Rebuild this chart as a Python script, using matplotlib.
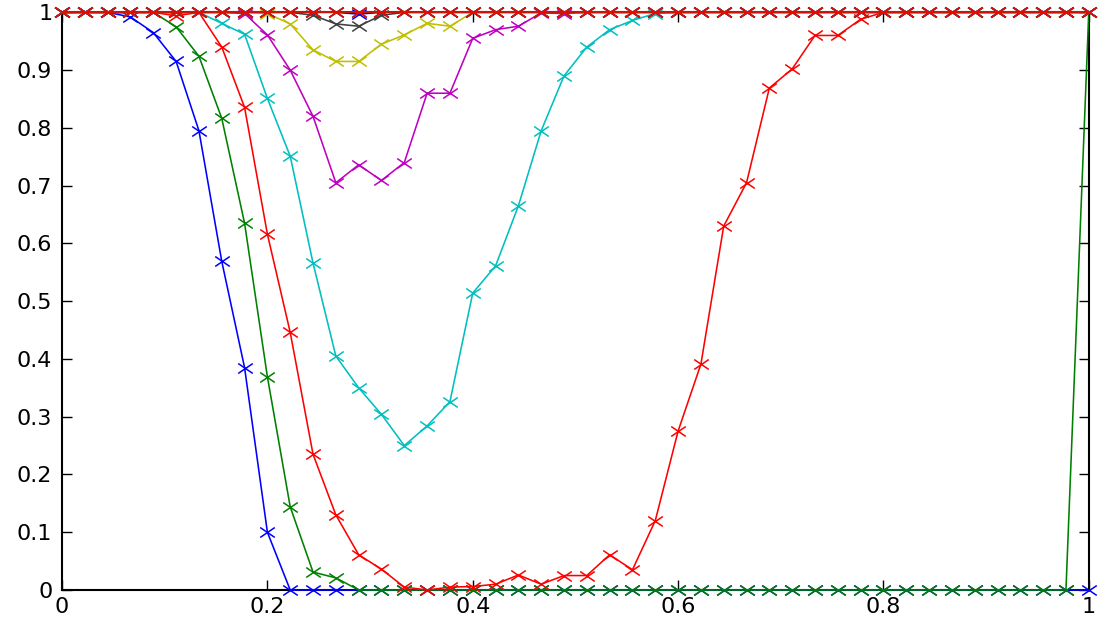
import matplotlib
matplotlib.use('Agg')
import matplotlib.pyplot as plt
import numpy as np
from matplotlib.path import Path

# Data: 46 samples on [0, 1]
x = np.linspace(0, 1, 46)

s1 = [1, 1, 1, 0.992, 0.965, 0.915, 0.795, 0.569, 0.385, 0.10,
      0, 0, 0, 0, 0, 0, 0, 0, 0, 0,
      0, 0, 0, 0, 0, 0, 0, 0, 0, 0,
      0, 0, 0, 0, 0, 0, 0, 0, 0, 0,
      0, 0, 0, 0, 0, 0]
s2 = [1, 1, 1, 1, 1, 0.975, 0.924, 0.8165, 0.635, 0.369,
      0.144, 0.031, 0.021, 0, 0, 0, 0, 0, 0, 0,
      0, 0, 0, 0, 0, 0, 0, 0, 0, 0,
      0, 0, 0, 0, 0, 0, 0, 0, 0, 0,
      0, 0, 0, 0, 0, 1]
s3 = [1, 1, 1, 1, 1, 0.994, 1, 0.94, 0.8355, 0.616,
      0.446, 0.235, 0.130, 0.061, 0.036, 0.005, 0, 0.005, 0.006, 0.010,
      0.026, 0.010, 0.025, 0.025, 0.061, 0.035, 0.120, 0.275, 0.391, 0.630,
      0.705, 0.869, 0.902, 0.960, 0.960, 0.988, 1, 1, 1, 1,
      1, 1, 1, 1, 1, 1]
s4 = [1, 1, 1, 1, 1, 1, 1, 0.981, 0.962, 0.851,
      0.751, 0.566, 0.405, 0.350, 0.304, 0.250, 0.284, 0.326, 0.514, 0.561,
      0.665, 0.795, 0.890, 0.940, 0.970, 0.986, 0.998, 1, 1, 1,
      1, 1, 1, 1, 1, 1, 1, 1, 1, 1,
      1, 1, 1, 1, 1, 1]
s5 = [1, 1, 1, 1, 1, 1, 1, 1, 0.998, 0.961,
      0.900, 0.820, 0.705, 0.736, 0.709, 0.740, 0.860, 0.860, 0.955, 0.970,
      0.976, 0.999, 0.998, 1, 1, 1, 1, 1, 1, 1,
      1, 1, 1, 1, 1, 1, 1, 1, 1, 1,
      1, 1, 1, 1, 1, 1]
s6 = [1, 1, 1, 1, 1, 1, 1, 1, 1, 0.998,
      0.980, 0.935, 0.915, 0.915, 0.945, 0.961, 0.981, 0.976, 1, 1,
      1, 1, 1, 1, 1, 1, 1, 1, 1, 1,
      1, 1, 1, 1, 1, 1, 1, 1, 1, 1,
      1, 1, 1, 1, 1, 1]
s7 = [1, 1, 1, 1, 1, 1, 1, 1, 1, 1,
      1, 0.995, 0.980, 0.976, 0.995, 1, 1, 1, 1, 1,
      1, 1, 1, 1, 1, 1, 1, 1, 1, 1,
      1, 1, 1, 1, 1, 1, 1, 1, 1, 1,
      1, 1, 1, 1, 1, 1]
s8 = [1, 1, 1, 1, 1, 1, 1, 1, 1, 1,
      1, 1, 1, 0.997, 1, 1, 1, 1, 1, 1,
      1, 1, 1, 1, 1, 1, 1, 1, 1, 1,
      1, 1, 1, 1, 1, 1, 1, 1, 1, 1,
      1, 1, 1, 1, 1, 1]
s9 = [1, 1, 1, 1, 1, 1, 1, 1, 1, 1,
      1, 1, 1, 1, 1, 1, 1, 1, 1, 1,
      1, 1, 1, 1, 1, 1, 1, 1, 1, 1,
      1, 1, 1, 1, 1, 1, 1, 1, 1, 1,
      1, 1, 1, 1, 1, 1]
s10 = [1, 1, 1, 1, 1, 1, 1, 1, 1, 1,
       1, 1, 1, 1, 1, 1, 1, 1, 1, 1,
       1, 1, 1, 1, 1, 1, 1, 1, 1, 1,
       1, 1, 1, 1, 1, 1, 1, 1, 1, 1,
       1, 1, 1, 1, 1, 1]

series = [s1, s2, s3, s4, s5, s6, s7, s8, s9, s10]

# old MATLAB colour order
colors = [(0, 0, 1), (0, 0.5, 0), (1, 0, 0), (0, 0.75, 0.75),
          (0.75, 0, 0.75), (0.75, 0.75, 0), (0.25, 0.25, 0.25)]

# wide, flat 'x' like the reference
xmark = Path([(-1, -0.68), (1, 0.68), (-1, 0.68), (1, -0.68)],
             [Path.MOVETO, Path.LINETO, Path.MOVETO, Path.LINETO])

fig = plt.figure(figsize=(11.02, 6.24), dpi=100)
ax = fig.add_axes([0.0563, 0.0545, 0.9317, 0.9257])

for k, ys in enumerate(series):
    ax.plot(x, ys, color=colors[k % len(colors)], linewidth=1.15,
            marker=xmark, markersize=10.5, markeredgewidth=1.1,
            clip_on=False, zorder=3 + k * 0.01)

ax.set_xlim(0, 1)
ax.set_ylim(0, 1)
ax.set_xticks(np.arange(0, 1.01, 0.2))
ax.set_yticks(np.arange(0, 1.01, 0.1))
ax.set_xticklabels(['0', '0.2', '0.4', '0.6', '0.8', '1'])
ax.set_yticklabels(['0', '0.1', '0.2', '0.3', '0.4', '0.5', '0.6', '0.7', '0.8', '0.9', '1'])

ax.tick_params(direction='in', length=7, width=1.0, labelsize=16,
               top=True, right=True, colors='black')
ax.tick_params(axis='y', pad=7)
ax.tick_params(axis='x', pad=5)
for sp in ax.spines.values():
    sp.set_linewidth(1.5)
    sp.set_zorder(2)

plt.savefig('out.png', dpi=100)
